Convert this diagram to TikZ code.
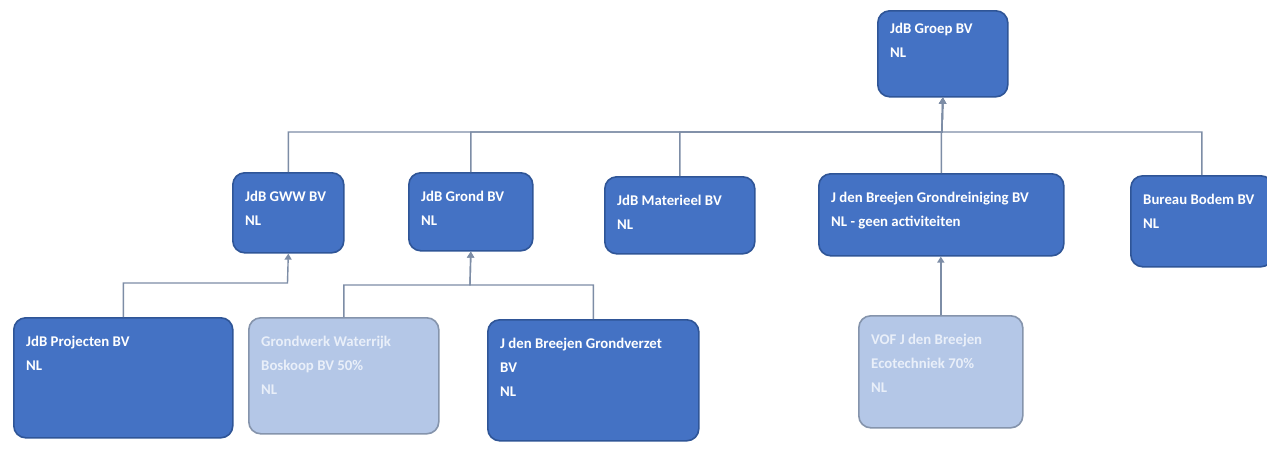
\documentclass[tikz,border=0pt]{standalone}
\usepackage{fontspec}
\setmainfont{Carlito}
\usetikzlibrary{arrows.meta,positioning,calc}
\definecolor{boxfill}{HTML}{4472C4}
\definecolor{boxedge}{HTML}{2F5597}
\definecolor{palefill}{HTML}{B4C7E7}
\definecolor{paleedge}{HTML}{8594AC}
\definecolor{paletext}{HTML}{E9EFF9}
\definecolor{linkc}{HTML}{7D8DA6}

\begin{document}
\begin{tikzpicture}[x=1pt, y=-1pt,
  org/.style={rounded corners=12pt, line width=1.6pt, anchor=north west, inner sep=0pt},
  dark/.style={org, draw=boxedge, fill=boxfill},
  light/.style={org, draw=paleedge, fill=palefill},
  lbl/.style={anchor=north west, inner sep=0pt, align=left, font=\bfseries\fontsize{14.8}{24}\selectfont},
  link/.style={draw=linkc, line width=1.4pt}, >={Triangle[width=7pt,length=6pt]}]
\fill[white] (0,0) rectangle (1267,471);
\useasboundingbox (0,0) rectangle (1267,471);
% top box
\node[dark, minimum width=130pt, minimum height=86pt] (groep) at (877,10) {};
\node[lbl, text=white] (groep-t) at (890,23) {JdB Groep BV\\NL};
% the other boxes
\foreach \n/\x/\y/\w/\h/\s/\c/\t in {
  gww/232/172/111/80/dark/white/{JdB GWW BV\\NL},
  grond/408/172/124/78/dark/white/{JdB Grond BV\\NL},
  materieel/604/176/150/77/dark/white/{JdB Materieel BV\\NL},
  reinig/818/173/245/82/dark/white/{J den Breejen Grondreiniging BV\\NL - geen activiteiten},
  bodem/1130/175/142/91/dark/white/{Bureau Bodem BV\\NL},
  proj/13/317/219/120/dark/white/{JdB Projecten BV\\NL},
  gwerk/248/317/190/116/light/paletext/{Grondwerk Waterrijk\\Boskoop BV 50\%\\NL},
  verzet/487/319/211/121/dark/white/{J den Breejen Grondverzet\\BV\\NL},
  vof/858/315/164/112/light/paletext/{VOF J den Breejen\\Ecotechniek 70\%\\NL}} {
  \node[\s, minimum width=\w pt, minimum height=\h pt] (\n) at (\x,\y) {};
  \node[lbl, text=\c] (\n-t) at (\x+13,\y+19) {\t};
}
\coordinate (bus) at (942,132);
\coordinate (gwwj) at (287.5,283);
\coordinate (grondj) at (470,285);
\foreach \n in {gww,grond,materieel,reinig,bodem}
  \draw[link,->] (\n.north) |- (bus) -- (groep.south);
\draw[link,->] (proj.north) |- (gwwj) -- (gww.south);
\draw[link,->] (gwerk.north) |- (grondj) -- (grond.south);
\draw[link,->] (verzet.north) |- (grondj) -- (grond.south);
\draw[link,->] (vof.north) -- (vof.north |- reinig.south);
\end{tikzpicture}
\end{document}
